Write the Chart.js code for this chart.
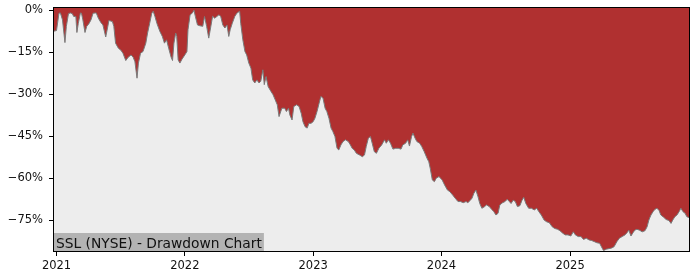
<!DOCTYPE html>
<html>
<head>
<meta charset="utf-8">
<script src="https://cdn.jsdelivr.net/npm/chart.js@4.4.1/dist/chart.umd.min.js"></script>
<style>
  html, body { margin: 0; padding: 0; background: #fff; }
  #wrap { width: 700px; height: 280px; position: relative; }
</style>
</head>
<body>
<div id="wrap"><canvas id="ddChart"></canvas></div>
<script>
// drawdown (%), roughly weekly
const dates = [
  '2020-12-22','2021-01-01','2021-01-08','2021-01-12','2021-01-18','2021-01-25','2021-01-29','2021-02-04',
  '2021-02-09','2021-02-15','2021-02-19','2021-02-25','2021-02-28','2021-03-04','2021-03-10','2021-03-13',
  '2021-03-17','2021-03-23','2021-03-28','2021-04-03','2021-04-09','2021-04-15','2021-04-24','2021-04-30',
  '2021-05-07','2021-05-13','2021-05-21','2021-05-27','2021-05-30','2021-06-09','2021-06-13','2021-06-18',
  '2021-06-26','2021-07-03','2021-07-09','2021-07-17','2021-07-24','2021-08-01','2021-08-07','2021-08-12',
  '2021-08-18','2021-08-22','2021-08-28','2021-09-04','2021-09-12','2021-09-17','2021-09-23','2021-09-29',
  '2021-10-03','2021-10-08','2021-10-14','2021-10-22','2021-10-29','2021-11-04','2021-11-10','2021-11-16',
  '2021-11-23','2021-11-27','2021-12-01','2021-12-06','2021-12-09','2021-12-13','2021-12-18','2021-12-24',
  '2022-01-01','2022-01-07','2022-01-10','2022-01-16','2022-01-22','2022-01-27','2022-01-31','2022-02-06',
  '2022-02-13','2022-02-21','2022-02-26','2022-03-04','2022-03-10','2022-03-16','2022-03-21','2022-03-27',
  '2022-04-02','2022-04-08','2022-04-13','2022-04-19','2022-04-25','2022-05-01','2022-05-06','2022-05-10',
  '2022-05-16','2022-05-23','2022-05-29','2022-06-06','2022-06-09','2022-06-15','2022-06-21','2022-06-26',
  '2022-07-02','2022-07-08','2022-07-13','2022-07-19','2022-07-25','2022-07-31','2022-08-05','2022-08-11',
  '2022-08-15','2022-08-20','2022-08-26','2022-09-03','2022-09-09','2022-09-15','2022-09-21','2022-09-26',
  '2022-10-04','2022-10-12','2022-10-17','2022-10-23','2022-10-27','2022-11-02','2022-11-07','2022-11-15',
  '2022-11-22','2022-11-28','2022-12-03','2022-12-09','2022-12-15','2022-12-20','2022-12-26','2023-01-01',
  '2023-01-06','2023-01-12','2023-01-18','2023-01-23','2023-01-29','2023-02-04','2023-02-09','2023-02-15',
  '2023-02-21','2023-02-26','2023-03-04','2023-03-10','2023-03-15','2023-03-21','2023-03-27','2023-04-03',
  '2023-04-11','2023-04-17','2023-04-22','2023-04-28','2023-05-04','2023-05-13','2023-05-21','2023-05-27',
  '2023-06-01','2023-06-07','2023-06-13','2023-06-18','2023-06-24','2023-06-30','2023-07-07','2023-07-15',
  '2023-07-23','2023-07-28','2023-08-03','2023-08-09','2023-08-16','2023-08-24','2023-08-31','2023-09-08',
  '2023-09-13','2023-09-21','2023-09-27','2023-10-02','2023-10-08','2023-10-12','2023-10-18','2023-10-23',
  '2023-10-31','2023-11-06','2023-11-13','2023-11-21','2023-11-26','2023-11-30','2023-12-06','2023-12-12',
  '2023-12-17','2023-12-25','2024-01-03','2024-01-10','2024-01-18','2024-01-25','2024-02-02','2024-02-09',
  '2024-02-17','2024-02-24','2024-03-03','2024-03-11','2024-03-16','2024-03-22','2024-03-28','2024-04-02',
  '2024-04-08','2024-04-14','2024-04-19','2024-04-25','2024-05-03','2024-05-08','2024-05-16','2024-05-23',
  '2024-05-29','2024-06-04','2024-06-10','2024-06-15','2024-06-23','2024-06-30','2024-07-06','2024-07-12',
  '2024-07-17','2024-07-23','2024-07-29','2024-08-04','2024-08-11','2024-08-17','2024-08-22','2024-08-28',
  '2024-09-05','2024-09-13','2024-09-21','2024-09-28','2024-10-04','2024-10-11','2024-10-19','2024-10-26',
  '2024-11-03','2024-11-11','2024-11-18','2024-11-26','2024-12-03','2024-12-11','2024-12-18','2024-12-26',
  '2025-01-03','2025-01-10','2025-01-16','2025-01-24','2025-02-01','2025-02-08','2025-02-16','2025-02-24',
  '2025-03-03','2025-03-11','2025-03-18','2025-03-26','2025-03-31','2025-04-06','2025-04-14','2025-04-21',
  '2025-04-29','2025-05-06','2025-05-14','2025-05-21','2025-05-29','2025-06-06','2025-06-12','2025-06-17',
  '2025-06-23','2025-06-29','2025-07-04','2025-07-10','2025-07-17','2025-07-25','2025-08-02','2025-08-08',
  '2025-08-13','2025-08-19','2025-08-25','2025-08-30','2025-09-05','2025-09-11','2025-09-16','2025-09-24',
  '2025-10-01','2025-10-09','2025-10-15','2025-10-20','2025-10-26','2025-11-01','2025-11-07','2025-11-12',
  '2025-11-18','2025-11-24','2025-11-29','2025-12-08'
];
const drawdown = [
  -7.6,-7.3,-1.1,-1.0,-3.5,-11.6,-5.8,-1.3,
  -1.0,-1.3,-2.3,-2.3,-8.0,-4.7,-1.0,-1.1,
  -3.5,-8.0,-5.8,-4.9,-3.5,-1.1,-1.0,-2.9,
  -4.4,-5.3,-9.6,-5.8,-3.7,-4.1,-5.8,-11.8,
  -13.6,-14.3,-15.4,-18.0,-16.8,-16.0,-16.8,-18.4,
  -24.3,-18.9,-15.4,-14.8,-11.8,-8.2,-4.7,-1.1,
  -0.4,-2.3,-4.9,-7.6,-9.4,-11.8,-10.6,-13.6,
  -16.8,-18.0,-11.8,-8.2,-9.4,-17.8,-18.9,-17.5,
  -16.0,-14.8,-7.0,-1.7,-1.1,-0.1,-2.3,-5.3,
  -5.6,-5.8,-2.3,-5.8,-10.0,-5.8,-2.2,-2.9,
  -2.3,-1.7,-2.2,-5.3,-6.4,-5.3,-9.4,-7.0,
  -4.7,-2.3,-1.1,-0.4,-4.7,-10.6,-14.8,-16.0,
  -18.9,-20.7,-24.9,-26.0,-24.9,-26.0,-25.4,-21.3,
  -26.6,-23.7,-27.3,-29.0,-30.2,-32.0,-33.8,-38.0,
  -35.0,-35.0,-36.2,-35.0,-37.5,-39.2,-34.4,-33.8,
  -34.4,-36.8,-39.8,-41.6,-42.1,-40.4,-40.4,-39.8,
  -38.6,-36.2,-33.2,-30.8,-31.4,-35.0,-36.2,-38.6,
  -42.1,-43.3,-45.1,-49.3,-49.9,-48.1,-46.9,-46.3,
  -46.9,-48.1,-49.3,-49.9,-51.1,-51.7,-52.3,-51.7,
  -48.7,-45.7,-45.1,-47.5,-50.5,-51.1,-49.3,-48.1,
  -46.3,-47.5,-46.3,-47.5,-49.6,-49.3,-49.3,-49.6,
  -48.1,-47.5,-46.3,-48.5,-45.1,-43.9,-45.7,-46.9,
  -47.5,-48.7,-50.5,-52.9,-54.1,-56.4,-60.6,-61.2,
  -60.0,-59.4,-60.6,-62.4,-64.2,-64.8,-66.0,-67.1,
  -68.3,-68.3,-68.7,-68.3,-68.7,-68.0,-67.1,-65.4,
  -64.2,-66.6,-69.0,-70.7,-70.1,-69.5,-70.1,-71.1,
  -71.9,-73.1,-72.5,-69.5,-68.7,-68.3,-67.5,-68.3,
  -69.0,-67.8,-68.3,-70.1,-69.8,-67.9,-66.8,-69.0,
  -70.7,-70.7,-71.3,-70.7,-71.9,-73.1,-74.9,-75.5,
  -75.9,-77.3,-77.9,-78.2,-78.7,-79.6,-80.2,-80.2,
  -80.6,-79.1,-80.2,-80.8,-80.8,-81.8,-81.4,-82.0,
  -82.2,-82.6,-83.0,-83.2,-84.4,-85.8,-85.3,-85.1,
  -84.9,-84.4,-82.6,-81.4,-80.8,-80.2,-79.4,-78.5,
  -80.6,-79.4,-78.5,-78.2,-78.5,-79.1,-78.7,-77.3,
  -74.9,-73.1,-71.9,-71.1,-70.7,-71.5,-73.1,-73.9,
  -74.7,-75.1,-76.1,-74.9,-73.7,-73.1,-71.9,-70.7,
  -71.9,-72.5,-73.7,-74.2
];
const yearTicks = [2021, 2022, 2023, 2024, 2025];
const pctTicks = [0, -15, -30, -45, -60, -75];
const chartLabel = 'SSL (NYSE) - Drawdown Chart';

const points = dates.map((d, i) => ({ x: Date.parse(d), y: drawdown[i] }));

const FONT = 'DejaVu Sans';

// grey plot background, black frame and the caption box
const framePlugin = {
    id: 'frame',
    beforeDraw(chart) {
        const { ctx, chartArea: a } = chart;
        ctx.save();
        ctx.fillStyle = '#ededed';
        ctx.fillRect(a.left, a.top, a.right - a.left, a.bottom - a.top);
        ctx.restore();
    },
    afterDraw(chart) {
        const { ctx, chartArea: a } = chart;
        ctx.save();
        ctx.font = '13.8px "' + FONT + '"';
        const w = ctx.measureText(chartLabel).width + 5;
        ctx.fillStyle = '#b3b3b3';
        ctx.fillRect(a.left, a.bottom - 19, w, 19);
        ctx.fillStyle = '#111';
        ctx.textBaseline = 'alphabetic';
        ctx.fillText(chartLabel, a.left + 3, a.bottom - 4.5);
        ctx.strokeStyle = '#000';
        ctx.lineWidth = 1;
        ctx.strokeRect(Math.round(a.left) + 0.5, Math.round(a.top) + 0.5,
            Math.round(a.right - a.left) - 1, Math.round(a.bottom - a.top) - 1);
        ctx.restore();
    }
};

new Chart(document.getElementById('ddChart'), {
    type: 'line',
    data: {
        datasets: [{
            data: points,
            fill: 'end',
            backgroundColor: '#b03030',
            borderColor: '#7a7a7a',
            borderWidth: 1,
            pointRadius: 0,
            tension: 0
        }]
    },
    options: {
        responsive: true,
        maintainAspectRatio: false,
        animation: false,
        layout: { padding: { top: 7, right: 10, left: 0, bottom: 0 } },
        plugins: { legend: { display: false }, tooltip: { enabled: false } },
        scales: {
            x: {
                type: 'linear',
                min: points[0].x,
                max: points[points.length - 1].x,
                afterBuildTicks: (axis) => {
                    axis.ticks = yearTicks.map(y => ({ value: Date.UTC(y, 0, 1) }));
                },
                afterFit: (axis) => {
                    axis.height = 28;
                    axis.paddingLeft = 0;
                    axis.paddingRight = 0;
                },
                grid: { drawOnChartArea: false, drawTicks: true, tickLength: 4, color: '#000' },
                border: { display: false },
                ticks: {
                    color: '#111',
                    padding: 3,
                    maxRotation: 0,
                    font: { family: FONT, size: 11.5 },
                    callback: (v) => new Date(v).getUTCFullYear()
                }
            },
            y: {
                min: -86.3,
                max: 1.1,
                afterBuildTicks: (axis) => {
                    axis.ticks = pctTicks.map(v => ({ value: v }));
                },
                afterFit: (axis) => {
                    axis.width = 53;
                    axis.paddingTop = 0;
                    axis.paddingBottom = 0;
                },
                grid: { drawOnChartArea: false, drawTicks: true, tickLength: 4, color: '#000' },
                border: { display: false },
                ticks: {
                    color: '#111',
                    padding: 6,
                    font: { family: FONT, size: 11.5 },
                    callback: (v) => v === 0 ? '0%' : '\u2212' + Math.abs(v) + '%'
                }
            }
        }
    },
    plugins: [framePlugin]
});
</script>
</body>
</html>
